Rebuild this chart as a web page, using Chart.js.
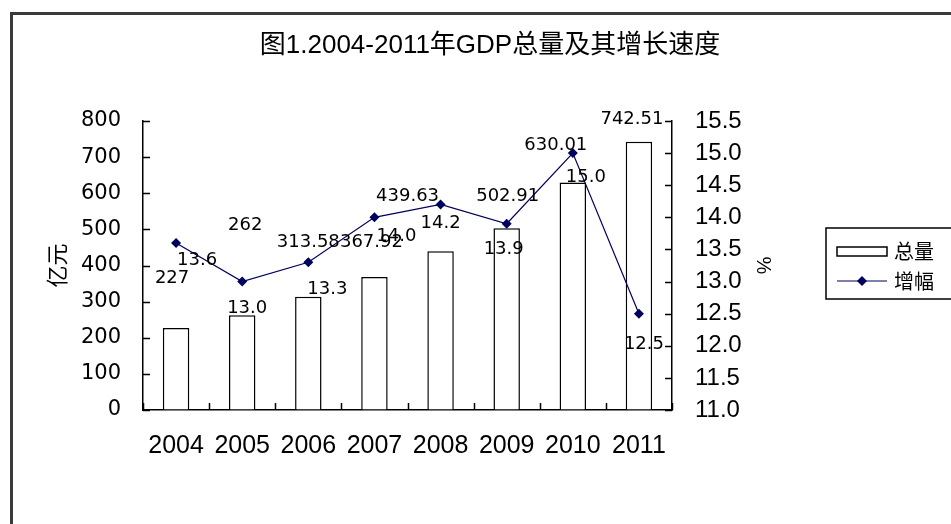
<!DOCTYPE html>
<html>
<head>
<meta charset="utf-8">
<script src="https://cdn.jsdelivr.net/npm/chart.js@4.4.1/dist/chart.umd.min.js"></script>
<style>
html, body { margin: 0; padding: 0; background: #fff; overflow: hidden; }
#wrap { position: relative; width: 951px; height: 524px; }
#frame { position: absolute; left: 10px; top: 12px; width: 980px; height: 560px; border: 3px solid #3a3a3a; box-sizing: border-box; }
canvas { position: absolute; left: 0; top: 0; }
</style>
</head>
<body>
<div id="wrap">
  <div id="frame"></div>
  <canvas id="myChart" width="951" height="524"></canvas>
</div>
<script>
const years = ['2004', '2005', '2006', '2007', '2008', '2009', '2010', '2011'];
const gdpTotal = [227, 262, 313.58, 367.92, 439.63, 502.91, 630.01, 742.51];
const gdpGrowth = [13.6, 13.0, 13.3, 14.0, 14.2, 13.9, 15.0, 12.5];
const leftTicks = [0, 100, 200, 300, 400, 500, 600, 700, 800];
const rightTicks = [11.0, 11.5, 12.0, 12.5, 13.0, 13.5, 14.0, 14.5, 15.0, 15.5];

// where the data labels sit, pixel nudges from their anchor
const barLabelNudge = [[-4, -50], [3, -90], [0, -54], [-3, -35], [-33, -55], [1, -32], [-17, -37], [-7, -22]];
const lineLabelNudge = [[21, 17], [5, 27], [19, 27], [22, 19], [0, 19], [-3, 26], [13, 24], [5, 31]];

const navy = '#00005e';
const cjk = '"Liberation Sans", "Noto Sans CJK SC", sans-serif';

const extras = {
    id: 'extras',
    afterDatasetsDraw(chart) {
        const ctx = chart.ctx;
        ctx.save();
        ctx.fillStyle = '#000';
        ctx.font = '18px "DejaVu Sans", sans-serif';
        ctx.textAlign = 'center';
        ctx.textBaseline = 'middle';

        // bar value labels
        chart.getDatasetMeta(1).data.forEach((bar, i) => {
            ctx.fillText(String(gdpTotal[i]), bar.x + barLabelNudge[i][0], bar.y + barLabelNudge[i][1]);
        });
        // growth labels
        chart.getDatasetMeta(0).data.forEach((pt, i) => {
            ctx.fillText(gdpGrowth[i].toFixed(1), pt.x + lineLabelNudge[i][0], pt.y + lineLabelNudge[i][1]);
        });

        // inward tick marks
        const x = chart.scales.x, yl = chart.scales.y, yr = chart.scales.y1;
        ctx.strokeStyle = '#000';
        ctx.lineWidth = 1.5;
        ctx.beginPath();
        yl.ticks.forEach((t) => {
            const p = Math.round(yl.getPixelForValue(t.value)) + 0.5;
            ctx.moveTo(yl.right, p); ctx.lineTo(yl.right + 7, p);
        });
        yr.ticks.forEach((t) => {
            const p = Math.round(yr.getPixelForValue(t.value)) + 0.5;
            ctx.moveTo(yr.left, p); ctx.lineTo(yr.left - 7, p);
        });
        const step = (x.right - x.left) / years.length;
        for (let i = 0; i <= years.length; i++) {
            const p = Math.round(x.left + i * step) + 0.5;
            ctx.moveTo(p, x.top); ctx.lineTo(p, x.top - 7);
        }
        ctx.stroke();
        ctx.restore();
    },
    afterDraw(chart) {
        const ctx = chart.ctx;
        ctx.save();
        // title
        ctx.fillStyle = '#000';
        ctx.font = '26px ' + cjk;
        ctx.textAlign = 'center';
        ctx.textBaseline = 'middle';
        ctx.fillText('图1.2004-2011年GDP总量及其增长速度', 490, 46);

        // legend
        const lx = 826, ly = 228;
        ctx.strokeStyle = '#000';
        ctx.lineWidth = 1.5;
        ctx.strokeRect(lx, ly, 140, 71);
        ctx.fillStyle = '#fff';
        ctx.fillRect(lx + 11, ly + 19, 50, 9);
        ctx.strokeRect(lx + 11, ly + 19, 50, 9);
        ctx.strokeStyle = navy;
        ctx.lineWidth = 1.2;
        ctx.beginPath();
        ctx.moveTo(lx + 11, ly + 53); ctx.lineTo(lx + 61, ly + 53);
        ctx.stroke();
        ctx.fillStyle = navy;
        ctx.beginPath();
        ctx.moveTo(lx + 36, ly + 48); ctx.lineTo(lx + 41, ly + 53);
        ctx.lineTo(lx + 36, ly + 58); ctx.lineTo(lx + 31, ly + 53);
        ctx.closePath();
        ctx.fill();
        ctx.fillStyle = '#000';
        ctx.font = '20px "Noto Sans CJK SC", sans-serif';
        ctx.textAlign = 'left';
        ctx.fillText(chart.data.datasets[1].label, lx + 68, ly + 23);
        ctx.fillText(chart.data.datasets[0].label, lx + 68, ly + 53);
        ctx.restore();
    }
};

const ctx = document.getElementById('myChart');

new Chart(ctx, {
    data: {
        labels: years,
        datasets: [{
            type: 'line',
            label: '增幅',
            data: gdpGrowth,
            yAxisID: 'y1',
            borderColor: navy,
            backgroundColor: navy,
            borderWidth: 1.2,
            pointStyle: 'rectRot',
            pointRadius: 5,
            pointBorderWidth: 0,
            tension: 0,
            order: 0
        }, {
            type: 'bar',
            label: '总量',
            data: gdpTotal,
            yAxisID: 'y',
            backgroundColor: '#fff',
            borderColor: '#000',
            borderWidth: 1.5,
            barPercentage: 0.4,
            categoryPercentage: 1,
            order: 1
        }]
    },
    options: {
        responsive: false,
        animation: false,
        layout: { padding: { left: 39, right: 172, top: 121, bottom: 0 } },
        plugins: {
            legend: { display: false },
            tooltip: { enabled: false }
        },
        scales: {
            x: {
                offset: true,
                grid: { display: true, drawOnChartArea: false, drawTicks: false },
                border: { display: true, color: '#000', width: 1.5 },
                ticks: { color: '#000', padding: 21, maxRotation: 0, autoSkip: false, font: { family: '"Liberation Sans", sans-serif', size: 25 } },
                afterFit: (s) => { s.height = 114; }
            },
            y: {
                position: 'left',
                min: leftTicks[0],
                max: leftTicks[leftTicks.length - 1],
                ticks: { stepSize: leftTicks[1] - leftTicks[0], autoSkip: false, color: '#000', padding: 22, font: { family: '"DejaVu Sans", sans-serif', size: 21 } },
                grid: { display: true, drawOnChartArea: false, drawTicks: false },
                border: { display: true, color: '#000', width: 1.5 },
                title: { display: true, text: '亿元', color: '#000', padding: { top: 4, bottom: 4 }, font: { family: '"Noto Sans CJK SC", sans-serif', size: 22 } },
                afterFit: (s) => { s.width = 104; }
            },
            y1: {
                position: 'right',
                min: rightTicks[0],
                max: rightTicks[rightTicks.length - 1],
                ticks: {
                    stepSize: rightTicks[1] - rightTicks[0],
                    autoSkip: false,
                    color: '#000',
                    padding: 23,
                    font: { family: '"Liberation Sans", sans-serif', size: 24 },
                    callback: (v) => Number(v).toFixed(1)
                },
                grid: { display: true, drawOnChartArea: false, drawTicks: false },
                border: { display: true, color: '#000', width: 1.5 },
                title: { display: true, text: '%', color: '#000', padding: { top: 4, bottom: 4 }, font: { family: '"Liberation Sans", sans-serif', size: 20 } },
                afterFit: (s) => { s.width = 107; }
            }
        }
    },
    plugins: [extras]
});
</script>
</body>
</html>
